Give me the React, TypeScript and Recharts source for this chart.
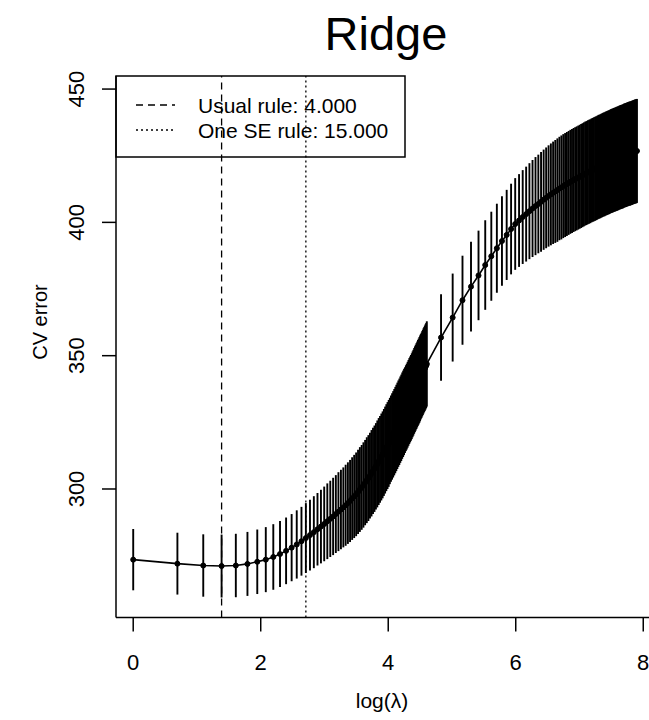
import { ComposedChart, Line, ErrorBar, XAxis, YAxis, ReferenceLine } from "recharts"

// lambda grid: every integer up to 100, then steps of 25
const lambdasFine = [
  1, 2, 3, 4, 5, 6, 7, 8, 9, 10,
  11, 12, 13, 14, 15, 16, 17, 18, 19, 20,
  21, 22, 23, 24, 25, 26, 27, 28, 29, 30,
  31, 32, 33, 34, 35, 36, 37, 38, 39, 40,
  41, 42, 43, 44, 45, 46, 47, 48, 49, 50,
  51, 52, 53, 54, 55, 56, 57, 58, 59, 60,
  61, 62, 63, 64, 65, 66, 67, 68, 69, 70,
  71, 72, 73, 74, 75, 76, 77, 78, 79, 80,
  81, 82, 83, 84, 85, 86, 87, 88, 89, 90,
  91, 92, 93, 94, 95, 96, 97, 98, 99, 100,
]
const lambdasCoarse = [
  125, 150, 175, 200, 225, 250, 275, 300, 325, 350,
  375, 400, 425, 450, 475, 500, 525, 550, 575, 600,
  625, 650, 675, 700, 725, 750, 775, 800, 825, 850,
  875, 900, 925, 950, 975, 1000, 1025, 1050, 1075, 1100,
  1125, 1150, 1175, 1200, 1225, 1250, 1275, 1300, 1325, 1350,
  1375, 1400, 1425, 1450, 1475, 1500, 1525, 1550, 1575, 1600,
  1625, 1650, 1675, 1700, 1725, 1750, 1775, 1800, 1825, 1850,
  1875, 1900, 1925, 1950, 1975, 2000, 2025, 2050, 2075, 2100,
  2125, 2150, 2175, 2200, 2225, 2250, 2275, 2300, 2325, 2350,
  2375, 2400, 2425, 2450, 2475, 2500, 2525, 2550, 2575, 2600,
  2625, 2650, 2675, 2700,
]

const cvFine = [
  273.5, 272.0, 271.3, 271.1, 271.3, 271.9, 272.7, 273.5, 274.5, 275.6,
  276.8, 278.0, 279.2, 280.4, 281.6, 282.7, 283.8, 284.9, 285.9, 286.9,
  287.9, 288.8, 289.7, 290.6, 291.5, 292.3, 293.1, 293.9, 294.7, 295.5,
  296.4, 297.2, 298.0, 298.9, 299.8, 300.6, 301.5, 302.4, 303.3, 304.1,
  305.0, 305.9, 306.8, 307.6, 308.5, 309.4, 310.3, 311.1, 312.0, 312.8,
  313.7, 314.6, 315.5, 316.3, 317.1, 318.0, 318.9, 319.7, 320.5, 321.3,
  322.1, 322.9, 323.7, 324.5, 325.2, 326.0, 326.7, 327.5, 328.2, 328.9,
  329.6, 330.3, 330.9, 331.6, 332.3, 333.0, 333.6, 334.2, 334.8, 335.5,
  336.1, 336.8, 337.4, 338.0, 338.6, 339.2, 339.8, 340.3, 340.9, 341.5,
  342.1, 342.6, 343.2, 343.7, 344.3, 344.8, 345.3, 345.8, 346.3, 346.9,
]
const cvCoarse = [
  356.8, 364.3, 370.8, 375.9, 380.1, 384.0, 387.3, 390.3, 393.0, 395.3,
  397.5, 399.4, 400.7, 402.0, 403.1, 404.2, 405.2, 406.1, 406.9, 407.7,
  408.5, 409.2, 409.9, 410.5, 411.1, 411.6, 412.1, 412.7, 413.1, 413.6,
  414.0, 414.4, 414.8, 415.2, 415.5, 415.9, 416.2, 416.5, 416.8, 417.1,
  417.4, 417.7, 418.0, 418.3, 418.5, 418.8, 419.0, 419.2, 419.5, 419.7,
  419.9, 420.1, 420.3, 420.5, 420.8, 420.9, 421.1, 421.3, 421.5, 421.7,
  421.8, 422.0, 422.2, 422.3, 422.5, 422.6, 422.8, 423.0, 423.1, 423.2,
  423.4, 423.5, 423.6, 423.8, 423.9, 424.0, 424.1, 424.3, 424.4, 424.5,
  424.6, 424.7, 424.8, 425.0, 425.1, 425.2, 425.3, 425.4, 425.5, 425.6,
  425.7, 425.8, 425.8, 425.9, 426.0, 426.1, 426.2, 426.3, 426.4, 426.5,
  426.6, 426.6, 426.7, 426.8,
]

const seFine = [
  11.5, 11.6, 11.7, 11.8, 11.9, 12.0, 12.1, 12.2, 12.3, 12.4,
  12.5, 12.6, 12.8, 12.9, 13.1, 13.3, 13.5, 13.6, 13.8, 14.0,
  14.2, 14.3, 14.5, 14.6, 14.8, 14.9, 15.0, 15.2, 15.3, 15.4,
  15.5, 15.6, 15.7, 15.8, 15.9, 15.9, 16.0, 16.0, 16.1, 16.1,
  16.1, 16.2, 16.2, 16.2, 16.2, 16.3, 16.3, 16.3, 16.3, 16.3,
  16.3, 16.3, 16.3, 16.3, 16.3, 16.2, 16.2, 16.2, 16.2, 16.2,
  16.2, 16.2, 16.2, 16.2, 16.2, 16.2, 16.2, 16.2, 16.2, 16.2,
  16.1, 16.1, 16.1, 16.1, 16.1, 16.1, 16.1, 16.1, 16.1, 16.1,
  16.1, 16.1, 16.1, 16.1, 16.1, 16.1, 16.1, 16.1, 16.1, 16.1,
  16.0, 16.0, 16.0, 16.0, 16.0, 16.0, 16.0, 16.0, 16.0, 16.0,
]
const seCoarse = [
  16.2, 16.5, 16.7, 16.8, 16.8, 16.8, 16.7, 16.7, 16.8, 16.9,
  17.0, 17.2, 17.4, 17.6, 17.8, 18.0, 18.2, 18.4, 18.5, 18.7,
  18.8, 18.9, 19.0, 19.1, 19.2, 19.3, 19.4, 19.4, 19.5, 19.5,
  19.5, 19.5, 19.5, 19.5, 19.5, 19.5, 19.5, 19.5, 19.5, 19.5,
  19.5, 19.5, 19.5, 19.5, 19.5, 19.5, 19.5, 19.5, 19.5, 19.5,
  19.5, 19.5, 19.5, 19.5, 19.5, 19.5, 19.5, 19.5, 19.5, 19.5,
  19.5, 19.5, 19.5, 19.5, 19.5, 19.5, 19.5, 19.5, 19.5, 19.5,
  19.5, 19.5, 19.5, 19.5, 19.5, 19.5, 19.5, 19.5, 19.5, 19.5,
  19.5, 19.5, 19.5, 19.5, 19.5, 19.5, 19.5, 19.5, 19.5, 19.5,
  19.5, 19.5, 19.5, 19.5, 19.5, 19.5, 19.5, 19.5, 19.5, 19.5,
  19.5, 19.5, 19.5, 19.5,
]

const usualRule = 4
const oneSeRule = 15

const xTicks = [0, 2, 4, 6, 8]
const yTicks = [300, 350, 400, 450]

const lambdas = [...lambdasFine, ...lambdasCoarse]
const cvError = [...cvFine, ...cvCoarse]
const seError = [...seFine, ...seCoarse]

const data = lambdas.map((lam, i) => ({
  x: Math.log(lam),
  cv: cvError[i],
  se: seError[i],
}))

const FONT = "'Liberation Sans', Arial, Helvetica, sans-serif"

const XTick = ({ x, y, payload }: any) => (
  <text x={x} y={y + 29} textAnchor="middle" dominantBaseline="central"
    fontFamily={FONT} fontSize={22} fill="#000">
    {payload.value}
  </text>
)

const YTick = ({ x, y, payload }: any) => {
  const cx = x - 23
  return (
    <text x={cx} y={y} textAnchor="middle" dominantBaseline="central"
      transform={`rotate(-90 ${cx} ${y})`}
      fontFamily={FONT} fontSize={22} fill="#000">
      {payload.value}
    </text>
  )
}

export default function App() {
  return (
    <div style={{ position: "absolute", left: 0, top: 0, width: 649, height: 720, overflow: "hidden", background: "#fff" }}>
      <ComposedChart width={700} height={720} data={data}
        margin={{ top: 76, right: 44, bottom: 42.5, left: 56 }}>
        <XAxis dataKey="x" type="number" domain={[-0.27, 8.2]} ticks={xTicks}
          allowDataOverflow height={60} tickSize={14}
          axisLine={{ stroke: "#000", strokeWidth: 1.5 }}
          tickLine={{ stroke: "#000", strokeWidth: 1.5 }}
          tick={<XTick />} />
        <XAxis xAxisId="top" orientation="top" type="number" domain={[-0.27, 8.2]}
          height={0} tick={false} tickLine={false}
          axisLine={{ stroke: "#000", strokeWidth: 1.5 }} />
        <YAxis type="number" domain={[251.8, 454.9]} ticks={yTicks}
          allowDataOverflow width={60} tickSize={14}
          axisLine={{ stroke: "#000", strokeWidth: 1.5 }}
          tickLine={{ stroke: "#000", strokeWidth: 1.5 }}
          tick={<YTick />} />
        <ReferenceLine x={Math.log(usualRule)} stroke="#000" strokeWidth={1.3} strokeDasharray="7 5" />
        <ReferenceLine x={Math.log(oneSeRule)} stroke="#000" strokeWidth={1.3} strokeDasharray="2 3" />
        <Line dataKey="cv" type="linear" stroke="#000" strokeWidth={1.6}
          dot={{ r: 2.5, fill: "#000", stroke: "#000", strokeWidth: 1 }}
          isAnimationActive={false}>
          <ErrorBar dataKey="se" width={0} stroke="#000" strokeWidth={1.9} direction="y" isAnimationActive={false} />
        </Line>
      </ComposedChart>
      <svg width={649} height={720} style={{ position: "absolute", left: 0, top: 0, pointerEvents: "none" }}>
        <text x={386} y={50} textAnchor="middle" fontFamily={FONT} fontSize={47} fill="#000">Ridge</text>
        <text x={382} y={708} textAnchor="middle" fontFamily={FONT} fontSize={21} fill="#000">log(λ)</text>
        <text x={40} y={322} textAnchor="middle" dominantBaseline="central"
          transform="rotate(-90 40 322)" fontFamily={FONT} fontSize={20} fill="#000">CV error</text>
        <rect x={116} y={76} width={289} height={81} fill="none" stroke="#000" strokeWidth={1.5} />
        <line x1={136} x2={175} y1={105} y2={105} stroke="#000" strokeWidth={1.3} strokeDasharray="7 5" />
        <line x1={136} x2={175} y1={130} y2={130} stroke="#000" strokeWidth={1.3} strokeDasharray="2 3" />
        <text x={198} y={112.5} fontFamily={FONT} fontSize={21} fill="#000">{`Usual rule: ${usualRule.toFixed(3)}`}</text>
        <text x={198} y={137.5} fontFamily={FONT} fontSize={21} fill="#000">{`One SE rule: ${oneSeRule.toFixed(3)}`}</text>
      </svg>
    </div>
  )
}
